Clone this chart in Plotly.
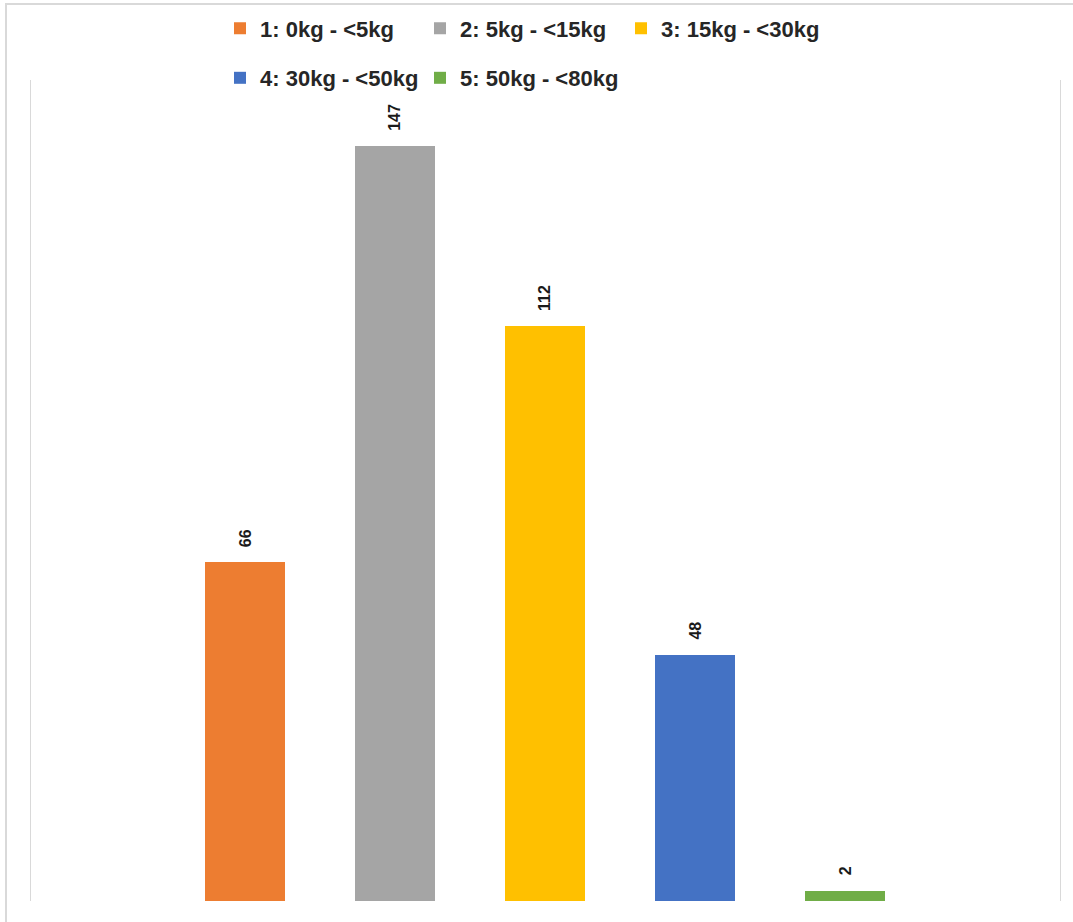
import plotly.graph_objects as go

categories = ["1: 0kg - <5kg", "2: 5kg - <15kg", "3: 15kg - <30kg", "4: 30kg - <50kg", "5: 50kg - <80kg"]
values = [66, 147, 112, 48, 2]
colors = ["#ED7D31", "#A5A5A5", "#FFC000", "#4472C4", "#70AD47"]

W, H = 1073, 922
L, R, T, B = 31, 13, 80, 21
pw, ph = W - L - R, H - T - B

def px_x(p):
    return (p - L) / pw

def px_y(p):
    return (H - B - p) / ph

# legend item pixel positions (left of item, text center y)
leg_pos = [(220, 28.5), (420, 28.5), (621, 28.5), (220, 78), (420, 78)]

fig = go.Figure()
for i, (c, v, col) in enumerate(zip(categories, values, colors)):
    lname = "legend" if i == 0 else f"legend{i+1}"
    fig.add_trace(go.Bar(
        x=[i], y=[v], name=c, marker=dict(color=col, line=dict(width=0)),
        width=0.53, legend=lname, hoverinfo="name+y",
    ))
    fig.add_annotation(
        x=i, y=v, text=f"<b>{v}</b>", textangle=-90, showarrow=False,
        xanchor="center", yanchor="bottom", yshift=13,
        font=dict(family="Liberation Sans, Arial, sans-serif", size=16, color="#1a1a1a"),
    )

legends = {}
for i, (lx, ly) in enumerate(leg_pos):
    lname = "legend" if i == 0 else f"legend{i+1}"
    legends[lname] = dict(
        x=px_x(lx), y=px_y(ly), xanchor="left", yanchor="middle",
        orientation="h", bgcolor="rgba(0,0,0,0)", borderwidth=0,
        font=dict(family="Liberation Sans, Arial, sans-serif", size=22, color="#262626", weight="bold"),
        itemclick=False, itemdoubleclick=False,
    )

fig.update_layout(
    width=W, height=H,
    margin=dict(l=L, r=R, t=T, b=B, pad=0, autoexpand=False),
    paper_bgcolor="white", plot_bgcolor="white",
    showlegend=True,
    bargap=0,
    xaxis=dict(range=[-1.427, 5.433], showgrid=False, zeroline=False, showline=False,
               showticklabels=False, ticks="", fixedrange=True),
    yaxis=dict(range=[0, 159.9], showgrid=False, zeroline=False, showline=True, mirror=True,
               linecolor="#d9d9d9", linewidth=1, showticklabels=False, ticks="", fixedrange=True),
    **legends,
)

fig.add_shape(type="rect", xref="paper", yref="paper",
              x0=px_x(6), y0=px_y(H + 20), x1=px_x(W + 20), y1=px_y(4),
              line=dict(color="#d9d9d9", width=2), fillcolor="rgba(0,0,0,0)", layer="below")

fig.write_html("out.html")
